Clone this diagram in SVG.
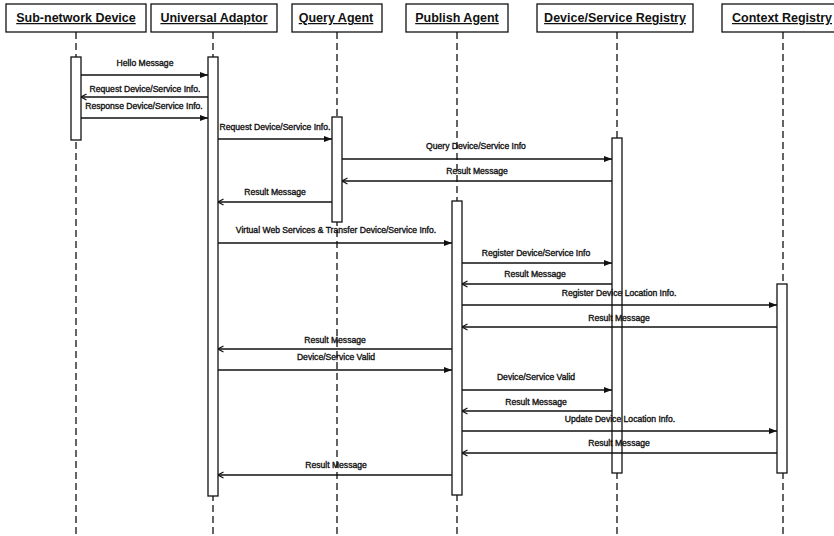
<svg xmlns="http://www.w3.org/2000/svg" width="834" height="536" viewBox="0 0 834 536">
<defs>
<style>
.hdr{fill:#fff;stroke:#111;stroke-width:1.3}
.ht{font-family:"Liberation Sans",Arial,sans-serif;font-weight:bold;font-size:12.5px;fill:#111;text-anchor:middle;text-decoration:underline}
.life{stroke:#111;stroke-width:1.3;stroke-dasharray:7 4;fill:none}
.act{fill:#fff;stroke:#111;stroke-width:1.3}
.msg{stroke:#111;stroke-width:1.3;fill:none}
.sync{marker-end:url(#fill)}
.ret{marker-end:url(#open)}
.lbl{font-family:"Liberation Sans",Arial,sans-serif;font-size:8.6px;fill:#111;text-anchor:middle;stroke:#111;stroke-width:0.35}
</style>
<marker id="fill" viewBox="0 0 8 6" refX="8" refY="3" markerWidth="8" markerHeight="6" markerUnits="userSpaceOnUse" orient="auto">
<path d="M0,0 L8,3 L0,6 z" fill="#111"/>
</marker>
<marker id="open" viewBox="0 0 8 8" refX="7.5" refY="4" markerWidth="8" markerHeight="8" markerUnits="userSpaceOnUse" orient="auto">
<path d="M2,1 L7.5,4 L2,7" fill="none" stroke="#111" stroke-width="1.2"/>
</marker>
</defs>
<rect width="834" height="536" fill="#fff"/>

<g id="lifelines">
<line class="life" x1="76" y1="32" x2="76" y2="536"/>
<line class="life" x1="213" y1="32" x2="213" y2="536"/>
<line class="life" x1="337" y1="32" x2="337" y2="536"/>
<line class="life" x1="457" y1="32" x2="457" y2="536"/>
<line class="life" x1="617" y1="32" x2="617" y2="536"/>
<line class="life" x1="783" y1="32" x2="783" y2="536"/>
</g>

<g id="sub-network-device">
<rect class="hdr" x="6" y="4" width="140" height="28"/>
<text class="ht" x="76" y="22">Sub-network Device</text>
<rect class="act" x="71" y="57" width="10" height="83"/>
</g>
<g id="universal-adaptor">
<rect class="hdr" x="151" y="4" width="126" height="28"/>
<text class="ht" x="214" y="22">Universal Adaptor</text>
<rect class="act" x="208" y="57" width="10" height="439"/>
</g>
<g id="query-agent">
<rect class="hdr" x="292" y="4" width="90" height="28"/>
<text class="ht" x="336" y="22">Query Agent</text>
<rect class="act" x="332" y="117" width="10" height="105"/>
</g>
<g id="publish-agent">
<rect class="hdr" x="406" y="4" width="102" height="28"/>
<text class="ht" x="457" y="22">Publish Agent</text>
<rect class="act" x="452" y="201" width="10" height="294"/>
</g>
<g id="device-service-registry">
<rect class="hdr" x="537" y="4" width="156" height="28"/>
<text class="ht" x="615" y="22">Device/Service Registry</text>
<rect class="act" x="612" y="138" width="10" height="335"/>
</g>
<g id="context-registry">
<rect class="hdr" x="722" y="4" width="120" height="28"/>
<text class="ht" x="782" y="22">Context Registry</text>
<rect class="act" x="777" y="284" width="10" height="189"/>
</g>

<g id="connectors">
<line class="msg sync" x1="81" y1="75" x2="208" y2="75"/>
<line class="msg ret" x1="208" y1="97" x2="81" y2="97"/>
<line class="msg sync" x1="81" y1="118" x2="208" y2="118"/>
<line class="msg sync" x1="218" y1="139" x2="332" y2="139"/>
<line class="msg sync" x1="342" y1="159" x2="612" y2="159"/>
<line class="msg ret" x1="612" y1="181" x2="342" y2="181"/>
<line class="msg ret" x1="332" y1="202" x2="218" y2="202"/>
<line class="msg sync" x1="218" y1="243" x2="452" y2="243"/>
<line class="msg sync" x1="462" y1="263" x2="612" y2="263"/>
<line class="msg ret" x1="612" y1="284" x2="462" y2="284"/>
<line class="msg sync" x1="462" y1="305" x2="777" y2="305"/>
<line class="msg ret" x1="777" y1="327" x2="462" y2="327"/>
<line class="msg ret" x1="452" y1="349" x2="218" y2="349"/>
<line class="msg sync" x1="218" y1="370" x2="452" y2="370"/>
<line class="msg sync" x1="462" y1="390" x2="612" y2="390"/>
<line class="msg ret" x1="612" y1="411" x2="462" y2="411"/>
<line class="msg sync" x1="462" y1="431" x2="777" y2="431"/>
<line class="msg ret" x1="777" y1="453" x2="462" y2="453"/>
<line class="msg ret" x1="452" y1="475" x2="218" y2="475"/>
</g>

<g id="labels">
<text class="lbl" x="145" y="66">Hello Message</text>
<text class="lbl" x="145" y="92">Request Device/Service Info.</text>
<text class="lbl" x="144" y="109">Response Device/Service Info.</text>
<text class="lbl" x="275" y="130">Request Device/Service Info.</text>
<text class="lbl" x="476" y="149">Query Device/Service Info</text>
<text class="lbl" x="477" y="174">Result Message</text>
<text class="lbl" x="275" y="195">Result Message</text>
<text class="lbl" x="336" y="233">Virtual Web Services &amp; Transfer Device/Service Info.</text>
<text class="lbl" x="536" y="256">Register Device/Service Info</text>
<text class="lbl" x="535" y="277">Result Message</text>
<text class="lbl" x="619" y="296">Register Device Location Info.</text>
<text class="lbl" x="619" y="321">Result Message</text>
<text class="lbl" x="335" y="343">Result Message</text>
<text class="lbl" x="336" y="360">Device/Service Valid</text>
<text class="lbl" x="536" y="380">Device/Service Valid</text>
<text class="lbl" x="536" y="405">Result Message</text>
<text class="lbl" x="620" y="422">Update Device Location Info.</text>
<text class="lbl" x="619" y="446">Result Message</text>
<text class="lbl" x="336" y="468">Result Message</text>
</g>
</svg>
